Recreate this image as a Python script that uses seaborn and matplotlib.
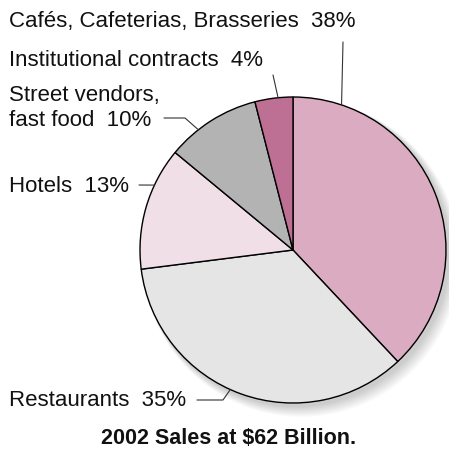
import numpy as np
import matplotlib
matplotlib.use("Agg")
import matplotlib.pyplot as plt
import seaborn as sns
from matplotlib.patches import Circle

sns.set_theme(style="white")
plt.rcParams['font.family'] = ['Liberation Sans', 'DejaVu Sans']

# data
categories = ["Cafés, Cafeterias, Brasseries", "Restaurants", "Hotels",
              "Street vendors,\nfast food", "Institutional contracts"]
shares = [38, 35, 13, 10, 4]
colors = ["#dbabc1", "#e5e5e5", "#f1dfe7", "#b3b3b3", "#bd6f94"]
title = "2002 Sales at $62 Billion."

W, H = 449, 451
fig = plt.figure(figsize=(W / 100, H / 100), dpi=100)
ax = fig.add_axes([0, 0, 1, 1])

cx, cy, r = 293, H - 250, 153

# soft shadow to lower right
for i in range(10):
    ax.add_patch(Circle((cx + 3 + i * 0.6, cy - 3 - i * 0.6), r + 1 + i * 0.5,
                        color="black", alpha=0.018, lw=0, zorder=0))

wedges, _ = ax.pie(shares, colors=colors, startangle=90, counterclock=False,
                   center=(cx, cy), radius=r, frame=True,
                   wedgeprops=dict(edgecolor="black", linewidth=1.0))
ax.set_xlim(0, W)
ax.set_ylim(0, H)
ax.set_aspect('equal')
ax.axis('off')

# label layout: text pos (px from top-left), elbow point, angle on pie edge (deg clockwise from top)
label_pos = [(9, 22), (9, 400), (9, 186), (9, 108), (9, 61)]
elbows = [None, (223, 400), None, (185, 118), None]
line_start = [(343, 42), (197, 400), (139, 185), (164, 118), (273, 75)]
edge_angle = [18.5, 204.2, 295.1, 321.8, 354.4]

for cat, s, (tx, ty), el, ls, ang in zip(categories, shares, label_pos, elbows, line_start, edge_angle):
    ax.text(tx, H - ty, f"{cat}  {s}%", ha="left", va="center",
            fontsize=16, color="#111111", linespacing=1.22)
    a = np.deg2rad(ang)
    ex, ey = cx + r * np.sin(a), cy + r * np.cos(a)
    xs = [ls[0]]
    ys = [H - ls[1]]
    if el is not None:
        xs.append(el[0])
        ys.append(H - el[1])
    xs.append(ex)
    ys.append(ey)
    ax.plot(xs, ys, color="#333333", lw=0.8, zorder=5)

ax.text(229, H - 438, title, ha="center", va="center", fontsize=15.5,
        fontweight="bold", color="#111111")

fig.savefig("out.png", dpi=100)
